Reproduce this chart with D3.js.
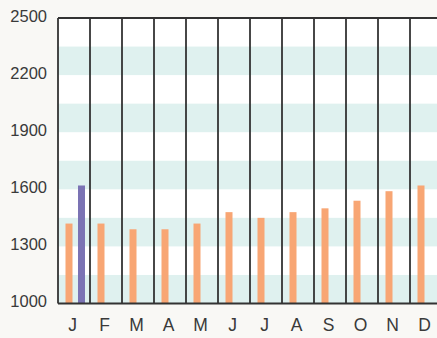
<!DOCTYPE html>
<html><head><meta charset="utf-8">
<script src="https://cdn.jsdelivr.net/npm/d3@7"></script>
<style>
html,body{margin:0;padding:0;background:#f9f8f5;}
svg{display:block;}
</style></head>
<body>
<svg id="chart" width="437" height="338"></svg>
<script>
const months = ["J","F","M","A","M","J","J","A","S","O","N","D"];
const orangeValues = [1420,1420,1390,1390,1420,1480,1450,1480,1500,1540,1590,1620];
const purpleValues = [1620,null,null,null,null,null,null,null,null,null,null,null];
const yTicks = [1000,1300,1600,1900,2200,2500];
const bandRanges = [[1000,1150],[1300,1450],[1600,1750],[1900,2050],[2200,2350]];

(function(){
const svg = d3.select("#chart");
const mLeft = 58, mTop = 18, mBottom = 303.5, colW = 32;
const mRight = mLeft + colW * months.length;

const x = d3.scaleBand().domain(d3.range(months.length)).range([mLeft, mRight]).padding(0);
const x1 = d3.scaleBand().domain(["o","p"]).range([7.5, 27]).paddingInner(0.44).paddingOuter(0);
const y = d3.scaleLinear().domain([1000,2500]).range([mBottom, mTop]);

svg.append("rect").attr("x", mLeft).attr("y", mTop).attr("width", mRight-mLeft).attr("height", mBottom-mTop).attr("fill", "#ffffff");

svg.selectAll("rect.band").data(bandRanges).join("rect")
  .attr("class","band")
  .attr("x", mLeft).attr("width", mRight-mLeft)
  .attr("y", d => y(d[1])).attr("height", d => y(d[0]) - y(d[1]))
  .attr("fill", "#dff1ef");

const g = svg.append("g");
g.selectAll("rect.o").data(orangeValues).join("rect")
  .attr("class","o")
  .attr("x", (d,i) => x(i) + x1("o")).attr("width", x1.bandwidth())
  .attr("y", d => y(d)).attr("height", d => y(1000) - y(d))
  .attr("fill", "#f8a674");
g.selectAll("rect.p").data(purpleValues.map((v,i)=>({v,i})).filter(d=>d.v!=null)).join("rect")
  .attr("class","p")
  .attr("x", d => x(d.i) + x1("p")).attr("width", x1.bandwidth())
  .attr("y", d => y(d.v)).attr("height", d => y(1000) - y(d.v))
  .attr("fill", "#7b73b4");

const seps = d3.range(months.length + 1).map(i => mLeft + i * x.step());
svg.selectAll("line.sep").data(seps).join("line")
  .attr("class","sep")
  .attr("x1", d => d).attr("x2", d => d).attr("y1", mTop).attr("y2", mBottom)
  .attr("stroke", "#333").attr("stroke-width", 1.8);
svg.append("line").attr("x1", mLeft).attr("x2", mRight).attr("y1", mTop).attr("y2", mTop).attr("stroke", "#333").attr("stroke-width", 1.8);
svg.append("line").attr("x1", mLeft).attr("x2", mRight).attr("y1", mBottom).attr("y2", mBottom).attr("stroke", "#333").attr("stroke-width", 1.8);

const yAxis = d3.axisLeft(y).tickValues(yTicks).tickFormat(d3.format("d")).tickSize(0).tickPadding(11);
const ya = svg.append("g").attr("transform", `translate(${mLeft},0)`).call(yAxis);
ya.select(".domain").remove();
ya.attr("font-family", null).attr("font-size", null);
ya.selectAll("text")
  .style("font-family","'Liberation Sans', Arial, sans-serif").style("font-size","16.5px")
  .attr("fill","#3a3a3a").attr("dy","3px");

const xAxis = d3.axisBottom(x).tickFormat(i => months[i]).tickSize(0).tickPadding(0);
const xa = svg.append("g").attr("transform", `translate(-1.5,${mBottom})`).call(xAxis);
xa.select(".domain").remove();
xa.attr("font-family", null).attr("font-size", null);
xa.selectAll("text")
  .style("font-family","'Liberation Sans', Arial, sans-serif").style("font-size","17.5px")
  .attr("fill","#3a3a3a").attr("dy", null).attr("y", 27);
})();
</script>
</body></html>
